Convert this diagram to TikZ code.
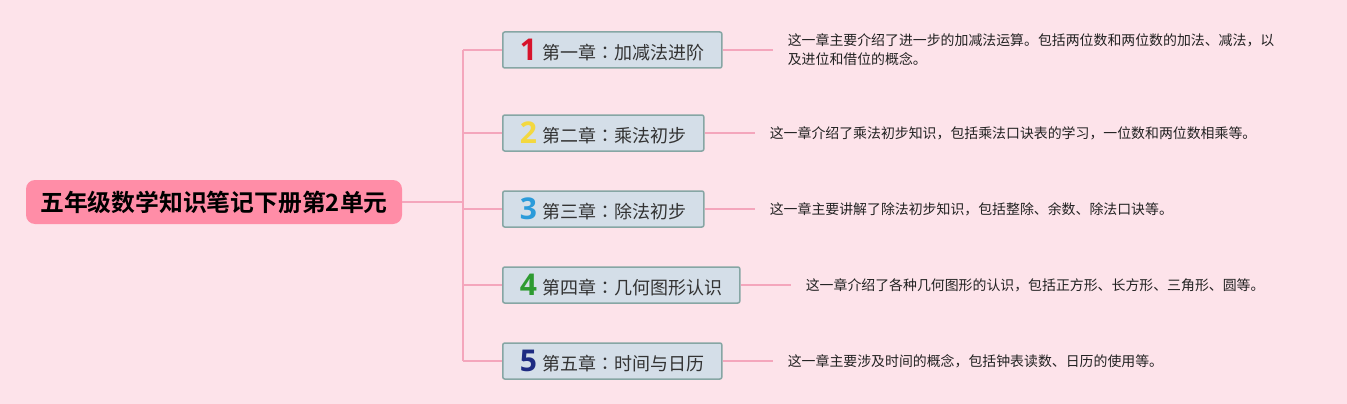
\documentclass[tikz,border=0pt]{standalone}
\usepackage{fontspec}
\setmainfont{Noto Sans CJK SC}[BoldFont={Noto Sans CJK SC Bold}]
\newfontfamily\tcfont{Noto Sans CJK TC}
\newfontfamily\digitfont{Open Sans}[BoldFont={Open Sans Bold}]
\definecolor{bg}{HTML}{FDE3EA}
\definecolor{rootfill}{HTML}{FF8DA7}
\definecolor{boxfill}{HTML}{D4DEE8}
\definecolor{boxline}{HTML}{86A6A4}
\definecolor{link}{HTML}{F4A6BC}
\definecolor{descc}{HTML}{222222}
\definecolor{n1}{HTML}{D7132B}
\definecolor{n2}{HTML}{F3D83F}
\definecolor{n3}{HTML}{2B9BDA}
\definecolor{n4}{HTML}{2E9B31}
\definecolor{n5}{HTML}{1E2B82}
\tikzset{
  rootbox/.style={fill=rootfill, rounded corners=9pt, minimum width=376pt, minimum height=44pt, inner sep=0pt,
    font=\fontsize{23.8pt}{30pt}\selectfont\bfseries, text=black},
  chapbox/.style={anchor=west, fill=boxfill, draw=boxline, line width=1.5pt, rounded corners=2pt,
    minimum height=36pt, inner xsep=17pt, inner ysep=0pt, font=\fontsize{18pt}{22pt}\selectfont, text=black!80},
  desc/.style={anchor=west, inner sep=0pt, align=left, font=\fontsize{13.9pt}{19pt}\selectfont, text=descc},
  linkline/.style={draw=link, line width=1.5pt},
}
\newcommand{\chnum}[2]{{\digitfont\bfseries\fontsize{30pt}{30pt}\selectfont\color{#1}\raisebox{-1.5pt}{#2}}\hspace{6pt}}
\newcommand{\tccolon}{{\tcfont ：}}
\begin{document}
\begin{tikzpicture}[x=1pt,y=-1pt]
\fill[bg] (0,0) rectangle (1347,404);
\useasboundingbox (0,0) rectangle (1347,404);

\node[rootbox] (root) at (214,202) {五年级数学知识笔记下册第2单元};

\coordinate (t0) at (463,202);
\coordinate (t1) at (463,50);
\coordinate (t2) at (463,133);
\coordinate (t3) at (463,209);
\coordinate (t4) at (463,285);
\coordinate (t5) at (463,361);

\node[chapbox] (b1) at (502,50) {\chnum{n1}{1}第一章\tccolon 加减法进阶};
\node[chapbox] (b2) at (502,133) {\chnum{n2}{2}第二章\tccolon 乘法初步};
\node[chapbox] (b3) at (502,209) {\chnum{n3}{3}第三章\tccolon 除法初步};
\node[chapbox] (b4) at (502,285) {\chnum{n4}{4}第四章\tccolon 几何图形认识};
\node[chapbox] (b5) at (502,361) {\chnum{n5}{5}第五章\tccolon 时间与日历};

\coordinate (e1) at ([xshift=50pt]b1.east);
\coordinate (e2) at ([xshift=50pt]b2.east);
\coordinate (e3) at ([xshift=50pt]b3.east);
\coordinate (e4) at ([xshift=50pt]b4.east);
\coordinate (e5) at ([xshift=50pt]b5.east);

\node[desc] (d1) at ([xshift=15pt]e1) {这一章主要介绍了进一步的加减法运算。包括两位数和两位数的加法、减法，以\\及进位和借位的概念。};
\node[desc] (d2) at ([xshift=15pt]e2) {这一章介绍了乘法初步知识，包括乘法口诀表的学习，一位数和两位数相乘等。};
\node[desc] (d3) at ([xshift=15pt]e3) {这一章主要讲解了除法初步知识，包括整除、余数、除法口诀等。};
\node[desc] (d4) at ([xshift=15pt]e4) {这一章介绍了各种几何图形的认识，包括正方形、长方形、三角形、圆等。};
\node[desc] (d5) at ([xshift=15pt]e5) {这一章主要涉及时间的概念，包括钟表读数、日历的使用等。};

\draw[linkline] (root.east) -- (t0);
\draw[linkline] (t1) -- (t5);
\foreach \i in {1,...,5} {
  \draw[linkline] (t\i) -- (b\i.west);
  \draw[linkline] (b\i.east) -- (e\i);
}
\end{tikzpicture}
\end{document}
